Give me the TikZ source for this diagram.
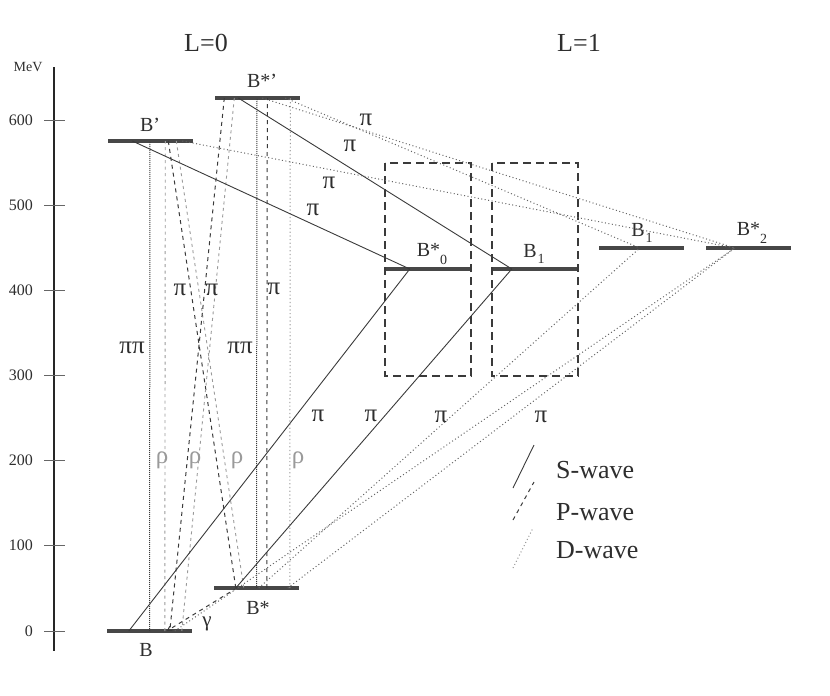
\documentclass[tikz,border=0pt]{standalone}
\usepackage{fontspec}
\setmainfont{Liberation Serif}
\usetikzlibrary{arrows.meta}
\definecolor{lev}{HTML}{474747}
\definecolor{ln}{HTML}{3A3A3A}
\definecolor{dl}{HTML}{666666}
\definecolor{txt}{HTML}{2E2E2E}
\definecolor{rhogray}{HTML}{9A9A9A}
\newcommand{\starsub}[1]{B*\raisebox{-0.36em}{\fontsize{14}{14}\selectfont #1}}
\newcommand{\plainsub}[1]{B\raisebox{-0.32em}{\hspace{1pt}\fontsize{14}{14}\selectfont #1}}
\begin{document}
\begin{tikzpicture}[x=1pt,y=-1pt,
  level/.style={minimum width=85pt,minimum height=3.5pt,inner sep=0pt,fill=lev,draw=none},
  lvlabel/.style={font=\fontsize{20}{22}\selectfont,text=txt,inner sep=0pt},
  bigtext/.style={font=\fontsize{26}{28}\selectfont,text=txt,inner sep=0pt},
  axlabel/.style={font=\fontsize{16}{18}\selectfont,text=txt,inner sep=0pt},
  pilab/.style={font=\fontsize{25}{27}\selectfont,text=txt,inner sep=0pt},
  rholab/.style={font=\fontsize{25}{27}\selectfont,text=rhogray,inner sep=0pt},
  swave/.style={line width=0.9pt,draw=ln},
  pwave/.style={line width=1pt,draw=ln,dash pattern=on 4pt off 4pt},
  rhowave/.style={line width=0.9pt,draw=rhogray,dash pattern=on 3pt off 3.5pt},
  rhodot/.style={line width=1pt,draw=rhogray,dash pattern=on 1.2pt off 2.5pt},
  dwave/.style={line width=1pt,draw=dl,dash pattern=on 1pt off 2.5pt},
  pipi/.style={line width=1pt,draw=ln,dash pattern=on 1pt off 1pt},
  wavebox/.style={line width=1.2pt,draw=ln,dash pattern=on 8pt off 5pt},
  tick/.style={line width=0.8pt,draw=dl},
]
\useasboundingbox (0,0) rectangle (830,696);

% axis
\coordinate (axtop) at (54,67);
\coordinate (axbot) at (54,651);
\draw[line width=1.2pt,draw=black!85] (axtop) -- (axbot);
\foreach \v/\y in {600/120,500/205,400/290,300/375,200/460,100/545,0/631}{
  \coordinate (tl\v) at (44,\y);
  \coordinate (tr\v) at (65,\y);
  \draw[tick] (tl\v) -- (tr\v);
  \node[axlabel,anchor=east] (ax\v) at (33,\y) {\v};
}
\node[font=\fontsize{14}{16}\selectfont,text=txt,inner sep=0pt] (mev) at (28,67) {MeV};

\node[bigtext] (L0) at (206,43) {L=0};
\node[bigtext] (L1) at (579,43) {L=1};

% levels
\node[level] (B)   at (149.5,631) {};
\node[level] (Bs)  at (256.5,588) {};
\node[level] (Bp)  at (150,141) {};
\node[level] (Bsp) at (257,98) {};
\node[level] (Bs0) at (427.5,269) {};
\node[level] (B1a) at (534.5,269) {};
\node[level] (B1r) at (641.5,248) {};
\node[level] (Bs2) at (748.5,248) {};

% level labels
\node[lvlabel] (lB)   at (146,650) {B};
\node[lvlabel] (lBs)  at (258,608) {B*};
\node[lvlabel] (lBp)  at (150,125) {B’};
\node[lvlabel] (lBsp) at (262,81) {B*’};
\node[lvlabel] (lBs0) at (432,254) {\starsub{0}};
\node[lvlabel] (lB1a) at (534,254) {\plainsub{1}};
\node[lvlabel] (lB1r) at (642,233) {\plainsub{1}};
\node[lvlabel] (lBs2) at (752,233) {\starsub{2}};

% dashed boxes
\coordinate (bx1a) at (385,163);
\coordinate (bx1b) at (471,376);
\coordinate (bx2a) at (492,163);
\coordinate (bx2b) at (578,376);
\draw[wavebox] (bx1a) rectangle (bx1b);
\draw[wavebox] (bx2a) rectangle (bx2b);

% vertical pi pi and rho
\draw[pipi] (B.center) -- (Bp.center);
\draw[rhowave] ([xshift=58pt]B.west) -- ([xshift=58pt]Bp.west);
\draw[pipi] (Bs.center) -- (Bsp.center);
\draw[pwave] ([xshift=53pt]Bs.west) -- ([xshift=53pt]Bsp.west);
\draw[rhodot] ([xshift=76pt]Bs.west) -- ([xshift=76pt]Bsp.west);

% crossing P-wave lines
\draw[pwave] ([xshift=61pt]Bp.west) -- ([xshift=22pt]Bs.west);
\draw[rhowave] ([xshift=69pt]Bp.west) -- ([xshift=30pt]Bs.west);
\draw[pwave] ([xshift=10pt]Bsp.west) -- ([xshift=63pt]B.west);
\draw[rhowave] ([xshift=20pt]Bsp.west) -- ([xshift=75pt]B.west);

% gamma
\draw[pwave,-{Straight Barb[length=4pt,width=5pt]}] ([xshift=23pt]Bs.west) -- ([xshift=60pt]B.west);

% S-wave
\draw[swave] ([xshift=25pt]Bp.west) -- ([xshift=25pt]Bs0.west);
\draw[swave] ([xshift=24pt]Bsp.west) -- ([xshift=20pt]B1a.west);
\draw[swave] ([xshift=22pt]B.west) -- ([xshift=25pt]Bs0.west);
\draw[swave] ([xshift=22pt]Bs.west) -- ([xshift=20pt]B1a.west);

% D-wave
\draw[dwave] ([xshift=71pt]Bsp.west) -- ([xshift=41pt]B1r.west);
\draw[dwave] ([xshift=48pt]Bsp.west) -- ([xshift=29pt]Bs2.west);
\draw[dwave] ([xshift=75pt]Bp.west) -- ([xshift=29pt]Bs2.west);
\draw[dwave] ([xshift=68pt]B.west) -- ([xshift=29pt]Bs2.west);
\draw[dwave] ([xshift=45pt]Bs.west) -- ([xshift=41pt]B1r.west);
\draw[dwave] ([xshift=74pt]Bs.west) -- ([xshift=29pt]Bs2.west);

% labels
\node[pilab] (p1) at (366,120) {π};
\node[pilab] (p2) at (350,146) {π};
\node[pilab] (p3) at (329,183) {π};
\node[pilab] (p4) at (313,210) {π};
\node[pilab] (p5) at (318,416) {π};
\node[pilab] (p6) at (371,416) {π};
\node[pilab] (p7) at (441,417) {π};
\node[pilab] (p8) at (541,417) {π};
\node[pilab] (p9) at (180,290) {π};
\node[pilab] (p10) at (212,290) {π};
\node[pilab] (p11) at (274,289) {π};
\node[pilab] (pp1) at (132,348) {ππ};
\node[pilab] (pp2) at (240,348) {ππ};
\node[rholab] (r1) at (162,460) {ρ};
\node[rholab] (r2) at (195,460) {ρ};
\node[rholab] (r3) at (237,460) {ρ};
\node[rholab] (r4) at (298,460) {ρ};
\node[font=\fontsize{21}{23}\selectfont,text=txt,inner sep=0pt] (gam) at (207,624) {γ};

% legend
\coordinate (s1) at (513,488); \coordinate (s2) at (534,445);
\coordinate (d1) at (513,520); \coordinate (d2) at (534,482);
\coordinate (t1) at (513,568); \coordinate (t2) at (533,528);
\draw[swave] (s1) -- (s2);
\draw[pwave] (d1) -- (d2);
\draw[dwave,draw=dl!70] (t1) -- (t2);
\node[bigtext,anchor=base west] (ls) at (556,478) {S-wave};
\node[bigtext,anchor=base west] (lp) at (556,520) {P-wave};
\node[bigtext,anchor=base west] (ld) at (556,558) {D-wave};
\end{tikzpicture}
\end{document}
